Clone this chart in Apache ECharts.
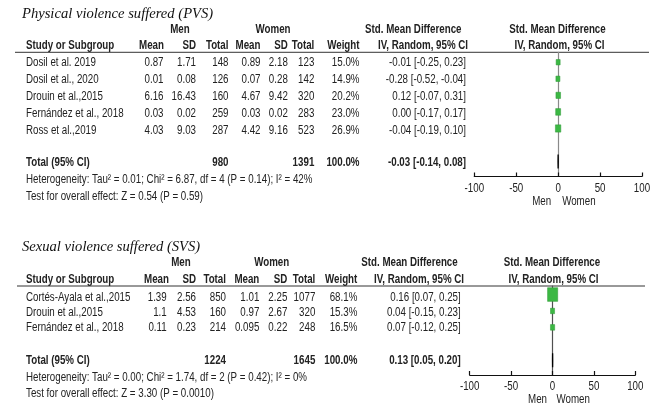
<!DOCTYPE html>
<html>
<head>
<meta charset="utf-8">
<script src="https://cdn.jsdelivr.net/npm/echarts@6/dist/echarts.min.js"></script>
<style>
html,body{margin:0;padding:0;background:#fff;}
#c{width:664px;height:403px;}
</style>
</head>
<body>
<div id="c"></div>
<script>
// ---------- DATA ----------
// Physical violence suffered (PVS)
const pvsStudies   = ['Dosil et al. 2019', 'Dosil et al., 2020', 'Drouin et al.,2015', 'Fernández et al., 2018', 'Ross et al.,2019'];
const pvsMenMean   = [0.87, 0.01, 6.16, 0.03, 4.03];
const pvsMenSD     = [1.71, 0.08, 16.43, 0.02, 9.03];
const pvsMenN      = [148, 126, 160, 259, 287];
const pvsWomenMean = [0.89, 0.07, 4.67, 0.03, 4.42];
const pvsWomenSD   = [2.18, 0.28, 9.42, 0.02, 9.16];
const pvsWomenN    = [123, 142, 320, 283, 523];
const pvsWeight    = [15.0, 14.9, 20.2, 23.0, 26.9];
const pvsSMD       = [-0.01, -0.28, 0.12, 0.00, -0.04];
const pvsLo        = [-0.25, -0.52, -0.07, -0.17, -0.19];
const pvsHi        = [0.23, -0.04, 0.31, 0.17, 0.10];
const pvsTotal     = {men: 980, women: 1391, weight: 100.0, smd: -0.03, lo: -0.14, hi: 0.08};
const pvsHet       = 'Heterogeneity: Tau² = 0.01; Chi² = 6.87, df = 4 (P = 0.14); I² = 42%';
const pvsTest      = 'Test for overall effect: Z = 0.54 (P = 0.59)';

// Sexual violence suffered (SVS)
const svsStudies   = ['Cortés-Ayala et al.,2015', 'Drouin et al.,2015', 'Fernández et al., 2018'];
const svsMenMean   = [1.39, 1.1, 0.11];
const svsMenSD     = [2.56, 4.53, 0.23];
const svsMenN      = [850, 160, 214];
const svsWomenMean = [1.01, 0.97, 0.095];
const svsWomenSD   = [2.25, 2.67, 0.22];
const svsWomenN    = [1077, 320, 248];
const svsWeight    = [68.1, 15.3, 16.5];
const svsSMD       = [0.16, 0.04, 0.07];
const svsLo        = [0.07, -0.15, -0.12];
const svsHi        = [0.25, 0.23, 0.25];
const svsTotal     = {men: 1224, women: 1645, weight: 100.0, smd: 0.13, lo: 0.05, hi: 0.20};
const svsHet       = 'Heterogeneity: Tau² = 0.00; Chi² = 1.74, df = 2 (P = 0.42); I² = 0%';
const svsTest      = 'Test for overall effect: Z = 3.30 (P = 0.0010)';

const axisTicks    = [-100, -50, 0, 50, 100];
const favLeft = 'Men', favRight = 'Women';

// ---------- LAYOUT / STYLE ----------
const FONT = '"Liberation Sans", Arial, sans-serif';
const FS = 12.5;
const SX = 0.78;          // horizontal condensation (narrow typeface look)
const TXT = '#222';
const GREEN = '#3cb844';

const panels = [
  {
    title: 'Physical violence suffered (PVS)',
    studies: pvsStudies, mm: pvsMenMean, ms: pvsMenSD, mn: pvsMenN,
    wm: pvsWomenMean, ws: pvsWomenSD, wn: pvsWomenN, w: pvsWeight,
    smd: pvsSMD, lo: pvsLo, hi: pvsHi, tot: pvsTotal, het: pvsHet, test: pvsTest,
    yTitle: 14, yGroup: 29.5, yHead: 45.7, yLine: 52.3, yRow0: 63, rowStep: 17,
    yTot: 162.5, yHet: 180, yTest: 197,
    lineX0: 15, lineX1: 649,
    colX: {name: 26, mm: 163.5, ms: 196, mn: 228.5, wm: 260.5, ws: 287.8, wn: 314.3, w: 359.5, ci: 466},
    headMean1: 164, groupMen: 180, groupWomen: 273,
    smdHeadL: 413.3, ivHeadL: 423, smdHeadR: 557.5, ivHeadR: 559.5,
    grid: {left: 474.3, right: 664 - 642, top: 52.3, height: 124.2},
    yMin: -0.6, yMax: 6.9, totRow: 6, zeroColor: '#8a8a8a',
    tickY: 188.3, favY: 201.7, favGapL: 7, favGapR: 4
  },
  {
    title: 'Sexual violence suffered (SVS)',
    studies: svsStudies, mm: svsMenMean, ms: svsMenSD, mn: svsMenN,
    wm: svsWomenMean, ws: svsWomenSD, wn: svsWomenN, w: svsWeight,
    smd: svsSMD, lo: svsLo, hi: svsHi, tot: svsTotal, het: svsHet, test: svsTest,
    yTitle: 247, yGroup: 262.3, yHead: 279.3, yLine: 286, yRow0: 297.5, rowStep: 15.2,
    yTot: 361, yHet: 377.7, yTest: 393.7,
    lineX0: 17, lineX1: 645,
    colX: {name: 26, mm: 166.7, ms: 196, mn: 226, wm: 259.3, ws: 287.3, wn: 315.3, w: 357.3, ci: 460.7},
    headMean1: 169, groupMen: 181, groupWomen: 271.7,
    smdHeadL: 409.5, ivHeadL: 419, smdHeadR: 552, ivHeadR: 553.5,
    grid: {left: 469.7, right: 664 - 635.3, top: 286, height: 89},
    yMin: -0.52, yMax: 4.9, totRow: 4, zeroColor: '#505050',
    tickY: 386.5, favY: 399.5, favGapL: 5.5, favGapR: 4
  }
];

function fmtCI(v, l, h) {
  return v.toFixed(2) + ' [' + l.toFixed(2) + ', ' + h.toFixed(2) + ']';
}
function txt(text, x, y, align, bold) {
  return {
    type: 'text', x: x, y: y, scaleX: SX, scaleY: 1, silent: true,
    style: {
      text: text, fill: TXT, align: align, verticalAlign: 'middle',
      textAlign: align, textVerticalAlign: 'middle',
      fontFamily: FONT, fontSize: FS, fontWeight: bold ? 'bold' : 'normal'
    }
  };
}

const graphics = [];
const grids = [], xAxes = [], yAxes = [], series = [];

panels.forEach(function (p, k) {
  const c = p.colX;
  // title
  graphics.push({
    type: 'text', x: 22, y: p.yTitle, silent: true,
    style: {text: p.title, fill: '#111', align: 'left', verticalAlign: 'middle',
      textAlign: 'left', textVerticalAlign: 'middle',
      fontFamily: '"Liberation Serif", "Times New Roman", serif', fontSize: 14.6, fontStyle: 'italic'}
  });
  // group headers
  graphics.push(txt('Men', p.groupMen, p.yGroup, 'center', true));
  graphics.push(txt('Women', p.groupWomen, p.yGroup, 'center', true));
  graphics.push(txt('Std. Mean Difference', p.smdHeadL, p.yGroup, 'center', true));
  graphics.push(txt('Std. Mean Difference', p.smdHeadR, p.yGroup, 'center', true));
  // column headers
  graphics.push(txt('Study or Subgroup', c.name, p.yHead, 'left', true));
  graphics.push(txt('Mean', p.headMean1, p.yHead, 'right', true));
  graphics.push(txt('SD', c.ms, p.yHead, 'right', true));
  graphics.push(txt('Total', c.mn, p.yHead, 'right', true));
  graphics.push(txt('Mean', c.wm, p.yHead, 'right', true));
  graphics.push(txt('SD', c.ws, p.yHead, 'right', true));
  graphics.push(txt('Total', c.wn, p.yHead, 'right', true));
  graphics.push(txt('Weight', c.w, p.yHead, 'right', true));
  graphics.push(txt('IV, Random, 95% CI', p.ivHeadL, p.yHead, 'center', true));
  graphics.push(txt('IV, Random, 95% CI', p.ivHeadR, p.yHead, 'center', true));
  // header rule
  graphics.push({
    type: 'line', silent: true,
    shape: {x1: p.lineX0, y1: p.yLine, x2: p.lineX1, y2: p.yLine},
    style: {stroke: '#333', lineWidth: 1}
  });
  // study rows
  p.studies.forEach(function (s, i) {
    const y = p.yRow0 + i * p.rowStep;
    graphics.push(txt(s, c.name, y, 'left', false));
    graphics.push(txt(String(p.mm[i]), c.mm, y, 'right', false));
    graphics.push(txt(String(p.ms[i]), c.ms, y, 'right', false));
    graphics.push(txt(String(p.mn[i]), c.mn, y, 'right', false));
    graphics.push(txt(String(p.wm[i]), c.wm, y, 'right', false));
    graphics.push(txt(String(p.ws[i]), c.ws, y, 'right', false));
    graphics.push(txt(String(p.wn[i]), c.wn, y, 'right', false));
    graphics.push(txt(p.w[i].toFixed(1) + '%', c.w, y, 'right', false));
    graphics.push(txt(fmtCI(p.smd[i], p.lo[i], p.hi[i]), c.ci, y, 'right', false));
  });
  // total row
  graphics.push(txt('Total (95% CI)', c.name, p.yTot, 'left', true));
  graphics.push(txt(String(p.tot.men), c.mn, p.yTot, 'right', true));
  graphics.push(txt(String(p.tot.women), c.wn, p.yTot, 'right', true));
  graphics.push(txt(p.tot.weight.toFixed(1) + '%', c.w, p.yTot, 'right', true));
  graphics.push(txt(fmtCI(p.tot.smd, p.tot.lo, p.tot.hi), c.ci, p.yTot, 'right', true));
  graphics.push(txt(p.het, c.name, p.yHet, 'left', false));
  graphics.push(txt(p.test, c.name, p.yTest, 'left', false));

  // ---- forest plot ----
  grids.push(Object.assign({containLabel: false}, p.grid));
  xAxes.push({
    type: 'value', gridIndex: k, min: axisTicks[0], max: axisTicks[axisTicks.length - 1],
    interval: axisTicks[1] - axisTicks[0], position: 'bottom',
    axisLine: {show: true, onZero: false, lineStyle: {color: '#111', width: 1.2}},
    axisTick: {show: true, inside: true, length: 4, lineStyle: {color: '#111', width: 1.2}},
    splitLine: {show: false},
    axisLabel: {show: false}
  });
  yAxes.push({
    type: 'value', gridIndex: k, inverse: true, min: p.yMin, max: p.yMax,
    axisLine: {show: true, onZero: true, lineStyle: {color: p.zeroColor, width: 1.2}},
    axisTick: {show: false}, axisLabel: {show: false}, splitLine: {show: false}
  });
  const pts = p.smd.map(function (v, i) { return [v, i, p.w[i]]; });
  // confidence intervals
  series.push({
    type: 'custom', xAxisIndex: k, yAxisIndex: k, silent: true, z: 3,
    data: p.smd.map(function (v, i) { return [p.lo[i], p.hi[i], i]; }),
    renderItem: function (params, api) {
      const a = api.coord([api.value(0), api.value(2)]);
      const b = api.coord([api.value(1), api.value(2)]);
      return {type: 'line', shape: {x1: a[0], y1: a[1], x2: b[0], y2: b[1]},
        style: {stroke: '#111', lineWidth: 1}};
    }
  });
  // study squares
  series.push({
    type: 'scatter', xAxisIndex: k, yAxisIndex: k, silent: true, z: 4,
    symbol: 'rect',
    symbolSize: function (val) {
      const w = 2.3 + 0.115 * val[2];
      return [w, w * 1.35];
    },
    itemStyle: {color: GREEN, borderColor: '#2e9a35', borderWidth: 0.5, opacity: 1},
    data: pts
  });
  // pooled diamond
  series.push({
    type: 'custom', xAxisIndex: k, yAxisIndex: k, silent: true, z: 5,
    data: [[p.tot.smd, p.tot.lo, p.tot.hi, p.totRow]],
    renderItem: function (params, api) {
      const r = api.value(3);
      const hgt = 7 / (api.size([0, 1])[1] || 16);
      const P = [
        api.coord([api.value(1), r]),
        api.coord([api.value(0), r - hgt]),
        api.coord([api.value(2), r]),
        api.coord([api.value(0), r + hgt])
      ];
      return {type: 'polygon', shape: {points: P},
        style: {fill: '#000', stroke: '#000', lineWidth: 1.3}};
    }
  });
});

const chart = echarts.init(document.getElementById('c'), null, {renderer: 'canvas'});
chart.setOption({
  animation: false,
  backgroundColor: '#fff',
  grid: grids, xAxis: xAxes, yAxis: yAxes, series: series,
  graphic: {elements: graphics}
});

// tick labels and favours labels positioned from the axis scale
panels.forEach(function (p, k) {
  axisTicks.forEach(function (v) {
    const px = chart.convertToPixel({xAxisIndex: k}, v);
    graphics.push(txt(String(v), px, p.tickY, 'center', false));
  });
  const z = chart.convertToPixel({xAxisIndex: k}, 0);
  graphics.push(txt(favLeft, z - p.favGapL, p.favY, 'right', false));
  graphics.push(txt(favRight, z + p.favGapR, p.favY, 'left', false));
});
chart.setOption({graphic: {elements: graphics}});
</script>
</body>
</html>
